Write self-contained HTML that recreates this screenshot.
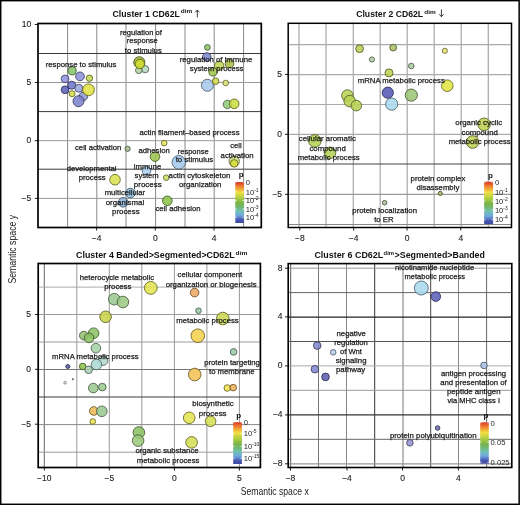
<!DOCTYPE html><html><head><meta charset="utf-8"><style>html,body{margin:0;padding:0;background:#fff;}svg{display:block;filter:blur(0.35px);}</style></head><body>
<svg width="520" height="505" viewBox="0 0 520 505" font-family='"Liberation Sans", sans-serif'>
<rect x="0" y="0" width="520" height="505" fill="#fff"/>
<line x1="67.6" y1="23.5" x2="67.6" y2="227.5" stroke="#888" stroke-width="1"/>
<line x1="96.8" y1="23.5" x2="96.8" y2="227.5" stroke="#888" stroke-width="1"/>
<line x1="126.0" y1="23.5" x2="126.0" y2="227.5" stroke="#888" stroke-width="1"/>
<line x1="155.6" y1="23.5" x2="155.6" y2="227.5" stroke="#888" stroke-width="1"/>
<line x1="185.0" y1="23.5" x2="185.0" y2="227.5" stroke="#888" stroke-width="1"/>
<line x1="214.2" y1="23.5" x2="214.2" y2="227.5" stroke="#888" stroke-width="1"/>
<line x1="243.6" y1="23.5" x2="243.6" y2="227.5" stroke="#888" stroke-width="1"/>
<line x1="38" y1="53.5" x2="261.3" y2="53.5" stroke="#3a3a3a" stroke-width="1"/>
<line x1="38" y1="82.5" x2="261.3" y2="82.5" stroke="#9a9a9a" stroke-width="1"/>
<line x1="38" y1="111.6" x2="261.3" y2="111.6" stroke="#3a3a3a" stroke-width="1"/>
<line x1="38" y1="140.7" x2="261.3" y2="140.7" stroke="#9a9a9a" stroke-width="1"/>
<line x1="38" y1="169.2" x2="261.3" y2="169.2" stroke="#3a3a3a" stroke-width="1"/>
<line x1="38" y1="198.4" x2="261.3" y2="198.4" stroke="#9a9a9a" stroke-width="1"/>
<circle cx="72.1" cy="70.8" r="4.10" fill="#86c46a" fill-opacity="0.88" stroke="#3c582f" stroke-opacity="0.85" stroke-width="1.0"/>
<circle cx="80" cy="76.4" r="4.40" fill="#8e92da" fill-opacity="0.88" stroke="#3f4162" stroke-opacity="0.85" stroke-width="1.0"/>
<circle cx="89.4" cy="78.2" r="3.20" fill="#c6d655" fill-opacity="0.88" stroke="#596026" stroke-opacity="0.85" stroke-width="1.0"/>
<circle cx="65.1" cy="78.9" r="3.90" fill="#9094de" fill-opacity="0.88" stroke="#404263" stroke-opacity="0.85" stroke-width="1.0"/>
<circle cx="71.7" cy="85.2" r="4.00" fill="#7177c8" fill-opacity="0.88" stroke="#32355a" stroke-opacity="0.85" stroke-width="1.0"/>
<circle cx="78.8" cy="88.2" r="4.00" fill="#9ca6de" fill-opacity="0.88" stroke="#464a63" stroke-opacity="0.85" stroke-width="1.0"/>
<circle cx="65.1" cy="89.8" r="3.90" fill="#5d63b8" fill-opacity="0.88" stroke="#292c52" stroke-opacity="0.85" stroke-width="1.0"/>
<circle cx="83.3" cy="96.4" r="4.30" fill="#8f97d4" fill-opacity="0.88" stroke="#40435f" stroke-opacity="0.85" stroke-width="1.0"/>
<circle cx="78.5" cy="101.2" r="5.50" fill="#7d84cc" fill-opacity="0.88" stroke="#383b5b" stroke-opacity="0.85" stroke-width="1.0"/>
<circle cx="88.5" cy="89.8" r="5.90" fill="#e0e143" fill-opacity="0.88" stroke="#64651e" stroke-opacity="0.85" stroke-width="1.0"/>
<circle cx="72.1" cy="93.7" r="3.00" fill="#d8da4e" fill-opacity="0.88" stroke="#616223" stroke-opacity="0.85" stroke-width="1.0"/>
<circle cx="139.3" cy="62.3" r="5.60" fill="#9db63a" fill-opacity="0.88" stroke="#46511a" stroke-opacity="0.85" stroke-width="1.0"/>
<circle cx="145.2" cy="69.2" r="3.60" fill="#b4d8bc" fill-opacity="0.88" stroke="#516154" stroke-opacity="0.85" stroke-width="1.0"/>
<circle cx="138.8" cy="70.3" r="3.30" fill="#b4d4a4" fill-opacity="0.88" stroke="#515f49" stroke-opacity="0.85" stroke-width="1.0"/>
<circle cx="139.8" cy="64.0" r="4.70" fill="#d2de32" fill-opacity="0.88" stroke="#5e6316" stroke-opacity="0.85" stroke-width="1.0"/>
<circle cx="207.4" cy="47.4" r="2.90" fill="#92c272" fill-opacity="0.88" stroke="#415733" stroke-opacity="0.85" stroke-width="1.0"/>
<circle cx="206.8" cy="57" r="4.30" fill="#8288d0" fill-opacity="0.88" stroke="#3a3d5d" stroke-opacity="0.85" stroke-width="1.0"/>
<circle cx="229.5" cy="63.7" r="4.30" fill="#a8c042" fill-opacity="0.88" stroke="#4b561d" stroke-opacity="0.85" stroke-width="1.0"/>
<circle cx="219.2" cy="65.7" r="4.70" fill="#c2d652" fill-opacity="0.88" stroke="#576024" stroke-opacity="0.85" stroke-width="1.0"/>
<circle cx="213" cy="71.9" r="4.10" fill="#a4ca4c" fill-opacity="0.88" stroke="#495a22" stroke-opacity="0.85" stroke-width="1.0"/>
<circle cx="207.4" cy="85.3" r="6.00" fill="#aacaee" fill-opacity="0.88" stroke="#4c5a6b" stroke-opacity="0.85" stroke-width="1.0"/>
<circle cx="215.6" cy="81.2" r="3.30" fill="#d2da52" fill-opacity="0.88" stroke="#5e6224" stroke-opacity="0.85" stroke-width="1.0"/>
<circle cx="225.7" cy="83" r="2.80" fill="#dae274" fill-opacity="0.88" stroke="#626534" stroke-opacity="0.85" stroke-width="1.0"/>
<circle cx="227.4" cy="104.4" r="4.20" fill="#94ca7c" fill-opacity="0.88" stroke="#425a37" stroke-opacity="0.85" stroke-width="1.0"/>
<circle cx="234.2" cy="103.8" r="4.80" fill="#cade42" fill-opacity="0.88" stroke="#5a631d" stroke-opacity="0.85" stroke-width="1.0"/>
<circle cx="127.6" cy="148.8" r="2.60" fill="#a4bc94" fill-opacity="0.88" stroke="#495442" stroke-opacity="0.85" stroke-width="1.0"/>
<circle cx="164.2" cy="143.1" r="2.80" fill="#e2e262" fill-opacity="0.88" stroke="#65652c" stroke-opacity="0.85" stroke-width="1.0"/>
<circle cx="155" cy="156.6" r="4.80" fill="#9cc44c" fill-opacity="0.88" stroke="#465822" stroke-opacity="0.85" stroke-width="1.0"/>
<circle cx="178.8" cy="162.3" r="6.80" fill="#a4c8ec" fill-opacity="0.88" stroke="#495a6a" stroke-opacity="0.85" stroke-width="1.0"/>
<circle cx="146.5" cy="170.8" r="4.30" fill="#acd2f2" fill-opacity="0.88" stroke="#4d5e6c" stroke-opacity="0.85" stroke-width="1.0"/>
<circle cx="115" cy="179.7" r="5.30" fill="#dae252" fill-opacity="0.88" stroke="#626524" stroke-opacity="0.85" stroke-width="1.0"/>
<circle cx="166.2" cy="177.7" r="2.80" fill="#cce264" fill-opacity="0.88" stroke="#5b652d" stroke-opacity="0.85" stroke-width="1.0"/>
<circle cx="130.4" cy="193.1" r="4.80" fill="#8cbcdc" fill-opacity="0.88" stroke="#3f5463" stroke-opacity="0.85" stroke-width="1.0"/>
<circle cx="123.2" cy="202.3" r="4.80" fill="#8cb4dc" fill-opacity="0.88" stroke="#3f5163" stroke-opacity="0.85" stroke-width="1.0"/>
<circle cx="167.3" cy="200.8" r="4.80" fill="#8cc44c" fill-opacity="0.88" stroke="#3f5822" stroke-opacity="0.85" stroke-width="1.0"/>
<circle cx="234.2" cy="161.3" r="5.20" fill="#d4e488" fill-opacity="0.88" stroke="#5f663d" stroke-opacity="0.85" stroke-width="1.0"/>
<circle cx="234.2" cy="163.4" r="3.80" fill="#d4dc3c" fill-opacity="0.88" stroke="#5f631b" stroke-opacity="0.85" stroke-width="1.0"/>
<rect x="38" y="23.5" width="223.3" height="204.0" fill="none" stroke="#000" stroke-width="1.7"/>
<line x1="96.6" y1="227.5" x2="96.6" y2="230.5" stroke="#000" stroke-width="0.9"/>
<text x="96.6" y="240.5" font-size="8.5" fill="#222" stroke="#222" stroke-width="0.12" text-anchor="middle">−4</text>
<line x1="155.3" y1="227.5" x2="155.3" y2="230.5" stroke="#000" stroke-width="0.9"/>
<text x="155.3" y="240.5" font-size="8.5" fill="#222" stroke="#222" stroke-width="0.12" text-anchor="middle">0</text>
<line x1="214.0" y1="227.5" x2="214.0" y2="230.5" stroke="#000" stroke-width="0.9"/>
<text x="214.0" y="240.5" font-size="8.5" fill="#222" stroke="#222" stroke-width="0.12" text-anchor="middle">4</text>
<line x1="34.8" y1="24.5" x2="38" y2="24.5" stroke="#000" stroke-width="0.9"/>
<text x="31.2" y="27.0" font-size="8.5" fill="#222" stroke="#222" stroke-width="0.12" text-anchor="end">10</text>
<line x1="34.8" y1="82.5" x2="38" y2="82.5" stroke="#000" stroke-width="0.9"/>
<text x="31.2" y="85.0" font-size="8.5" fill="#222" stroke="#222" stroke-width="0.12" text-anchor="end">5</text>
<line x1="34.8" y1="140.7" x2="38" y2="140.7" stroke="#000" stroke-width="0.9"/>
<text x="31.2" y="143.2" font-size="8.5" fill="#222" stroke="#222" stroke-width="0.12" text-anchor="end">0</text>
<line x1="34.8" y1="198.4" x2="38" y2="198.4" stroke="#000" stroke-width="0.9"/>
<text x="31.2" y="200.9" font-size="8.5" fill="#222" stroke="#222" stroke-width="0.12" text-anchor="end">−5</text>
<text x="45.7" y="66.5" font-size="7.8" font-weight="normal" fill="#1a1a1a" stroke="#1a1a1a" stroke-width="0.25" textLength="70.8" lengthAdjust="spacingAndGlyphs">response to stimulus</text>
<text x="120.1" y="34.6" font-size="7.8" font-weight="normal" fill="#1a1a1a" stroke="#1a1a1a" stroke-width="0.25" textLength="41.7" lengthAdjust="spacingAndGlyphs">regulation of</text>
<text x="126.8" y="43.3" font-size="7.8" font-weight="normal" fill="#1a1a1a" stroke="#1a1a1a" stroke-width="0.25" textLength="31.0" lengthAdjust="spacingAndGlyphs">response</text>
<text x="124.8" y="52.8" font-size="7.8" font-weight="normal" fill="#1a1a1a" stroke="#1a1a1a" stroke-width="0.25" textLength="37.0" lengthAdjust="spacingAndGlyphs">to stimulus</text>
<text x="179.7" y="62.2" font-size="7.8" font-weight="normal" fill="#1a1a1a" stroke="#1a1a1a" stroke-width="0.25" textLength="72.6" lengthAdjust="spacingAndGlyphs">regulation of immune</text>
<text x="189.8" y="71.0" font-size="7.8" font-weight="normal" fill="#1a1a1a" stroke="#1a1a1a" stroke-width="0.25" textLength="53.6" lengthAdjust="spacingAndGlyphs">system process</text>
<text x="139.4" y="135.0" font-size="7.8" font-weight="normal" fill="#1a1a1a" stroke="#1a1a1a" stroke-width="0.25" textLength="100.2" lengthAdjust="spacingAndGlyphs">actin filament–based process</text>
<text x="75.0" y="149.6" font-size="7.8" font-weight="normal" fill="#1a1a1a" stroke="#1a1a1a" stroke-width="0.25" textLength="46.3" lengthAdjust="spacingAndGlyphs">cell activation</text>
<text x="138.4" y="152.7" font-size="7.8" font-weight="normal" fill="#1a1a1a" stroke="#1a1a1a" stroke-width="0.25" textLength="31.4" lengthAdjust="spacingAndGlyphs">adhesion</text>
<text x="177.7" y="153.5" font-size="7.8" font-weight="normal" fill="#1a1a1a" stroke="#1a1a1a" stroke-width="0.25" textLength="31.0" lengthAdjust="spacingAndGlyphs">response</text>
<text x="175.7" y="162.4" font-size="7.8" font-weight="normal" fill="#1a1a1a" stroke="#1a1a1a" stroke-width="0.25" textLength="37.5" lengthAdjust="spacingAndGlyphs">to stimulus</text>
<text x="230.3" y="148.4" font-size="7.8" font-weight="normal" fill="#1a1a1a" stroke="#1a1a1a" stroke-width="0.25" textLength="11.4" lengthAdjust="spacingAndGlyphs">cell</text>
<text x="220.6" y="157.8" font-size="7.8" font-weight="normal" fill="#1a1a1a" stroke="#1a1a1a" stroke-width="0.25" textLength="33.0" lengthAdjust="spacingAndGlyphs">activation</text>
<text x="66.7" y="170.8" font-size="7.8" font-weight="normal" fill="#1a1a1a" stroke="#1a1a1a" stroke-width="0.25" textLength="49.8" lengthAdjust="spacingAndGlyphs">developmental</text>
<text x="78.7" y="179.8" font-size="7.8" font-weight="normal" fill="#1a1a1a" stroke="#1a1a1a" stroke-width="0.25" textLength="27.0" lengthAdjust="spacingAndGlyphs">process</text>
<text x="133.8" y="168.7" font-size="7.8" font-weight="normal" fill="#1a1a1a" stroke="#1a1a1a" stroke-width="0.25" textLength="27.4" lengthAdjust="spacingAndGlyphs">immune</text>
<text x="134.6" y="177.6" font-size="7.8" font-weight="normal" fill="#1a1a1a" stroke="#1a1a1a" stroke-width="0.25" textLength="24.1" lengthAdjust="spacingAndGlyphs">system</text>
<text x="133.8" y="186.5" font-size="7.8" font-weight="normal" fill="#1a1a1a" stroke="#1a1a1a" stroke-width="0.25" textLength="27.9" lengthAdjust="spacingAndGlyphs">process</text>
<text x="168.6" y="177.6" font-size="7.8" font-weight="normal" fill="#1a1a1a" stroke="#1a1a1a" stroke-width="0.25" textLength="61.7" lengthAdjust="spacingAndGlyphs">actin cytoskeleton</text>
<text x="179.0" y="187.0" font-size="7.8" font-weight="normal" fill="#1a1a1a" stroke="#1a1a1a" stroke-width="0.25" textLength="42.4" lengthAdjust="spacingAndGlyphs">organization</text>
<text x="104.7" y="195.3" font-size="7.8" font-weight="normal" fill="#1a1a1a" stroke="#1a1a1a" stroke-width="0.25" textLength="40.5" lengthAdjust="spacingAndGlyphs">multicellular</text>
<text x="105.7" y="204.7" font-size="7.8" font-weight="normal" fill="#1a1a1a" stroke="#1a1a1a" stroke-width="0.25" textLength="38.5" lengthAdjust="spacingAndGlyphs">organismal</text>
<text x="112.0" y="214.1" font-size="7.8" font-weight="normal" fill="#1a1a1a" stroke="#1a1a1a" stroke-width="0.25" textLength="27.6" lengthAdjust="spacingAndGlyphs">process</text>
<text x="155.4" y="210.6" font-size="7.8" font-weight="normal" fill="#1a1a1a" stroke="#1a1a1a" stroke-width="0.25" textLength="45.2" lengthAdjust="spacingAndGlyphs">cell adhesion</text>
<defs><linearGradient id="g235182" x1="0" y1="0" x2="0" y2="1"><stop offset="0" stop-color="#d83828"/><stop offset="0.12" stop-color="#f08830"/><stop offset="0.25" stop-color="#f2de40"/><stop offset="0.38" stop-color="#b4d040"/><stop offset="0.52" stop-color="#78b448"/><stop offset="0.62" stop-color="#70b878"/><stop offset="0.71" stop-color="#70c0b4"/><stop offset="0.81" stop-color="#6ea8e0"/><stop offset="0.92" stop-color="#4858b0"/><stop offset="1" stop-color="#3a48a0"/></linearGradient></defs>
<rect x="235.3" y="182" width="8.599999999999994" height="41" fill="url(#g235182)"/>
<text x="238.8" y="177.2" font-size="8" font-weight="bold" fill="#111">p</text>
<line x1="235.3" y1="182" x2="236.8" y2="182" stroke="#fff" stroke-width="0.7"/>
<line x1="242.4" y1="182" x2="243.9" y2="182" stroke="#fff" stroke-width="0.7"/>
<text x="245.7" y="184.7" font-size="7.6" fill="#1a1a1a">0</text>
<line x1="235.3" y1="191.8" x2="236.8" y2="191.8" stroke="#fff" stroke-width="0.7"/>
<line x1="242.4" y1="191.8" x2="243.9" y2="191.8" stroke="#fff" stroke-width="0.7"/>
<text x="245.7" y="194.5" font-size="7.6" fill="#1a1a1a">10<tspan font-size="5" dy="-3">-1</tspan></text>
<line x1="235.3" y1="200.5" x2="236.8" y2="200.5" stroke="#fff" stroke-width="0.7"/>
<line x1="242.4" y1="200.5" x2="243.9" y2="200.5" stroke="#fff" stroke-width="0.7"/>
<text x="245.7" y="203.2" font-size="7.6" fill="#1a1a1a">10<tspan font-size="5" dy="-3">-2</tspan></text>
<line x1="235.3" y1="209" x2="236.8" y2="209" stroke="#fff" stroke-width="0.7"/>
<line x1="242.4" y1="209" x2="243.9" y2="209" stroke="#fff" stroke-width="0.7"/>
<text x="245.7" y="211.7" font-size="7.6" fill="#1a1a1a">10<tspan font-size="5" dy="-3">-3</tspan></text>
<line x1="235.3" y1="217.1" x2="236.8" y2="217.1" stroke="#fff" stroke-width="0.7"/>
<line x1="242.4" y1="217.1" x2="243.9" y2="217.1" stroke="#fff" stroke-width="0.7"/>
<text x="245.7" y="219.8" font-size="7.6" fill="#1a1a1a">10<tspan font-size="5" dy="-3">-4</tspan></text>
<line x1="299.0" y1="23.3" x2="299.0" y2="227.5" stroke="#aaaaaa" stroke-width="1.25"/>
<line x1="326.0" y1="23.3" x2="326.0" y2="227.5" stroke="#aaaaaa" stroke-width="1.25"/>
<line x1="353.3" y1="23.3" x2="353.3" y2="227.5" stroke="#aaaaaa" stroke-width="1.25"/>
<line x1="380.2" y1="23.3" x2="380.2" y2="227.5" stroke="#aaaaaa" stroke-width="1.25"/>
<line x1="407.2" y1="23.3" x2="407.2" y2="227.5" stroke="#aaaaaa" stroke-width="1.25"/>
<line x1="434.2" y1="23.3" x2="434.2" y2="227.5" stroke="#aaaaaa" stroke-width="1.25"/>
<line x1="461.2" y1="23.3" x2="461.2" y2="227.5" stroke="#aaaaaa" stroke-width="1.25"/>
<line x1="488.3" y1="23.3" x2="488.3" y2="227.5" stroke="#aaaaaa" stroke-width="1.25"/>
<line x1="288.2" y1="44.6" x2="511.5" y2="44.6" stroke="#aaaaaa" stroke-width="1.2"/>
<line x1="288.2" y1="74.6" x2="511.5" y2="74.6" stroke="#aaaaaa" stroke-width="1.2"/>
<line x1="288.2" y1="104.5" x2="511.5" y2="104.5" stroke="#aaaaaa" stroke-width="1.2"/>
<line x1="288.2" y1="134.4" x2="511.5" y2="134.4" stroke="#aaaaaa" stroke-width="1.2"/>
<line x1="288.2" y1="164.0" x2="511.5" y2="164.0" stroke="#444" stroke-width="1.2"/>
<line x1="288.2" y1="194.3" x2="511.5" y2="194.3" stroke="#9a9a9a" stroke-width="1.2"/>
<line x1="288.2" y1="224.5" x2="511.5" y2="224.5" stroke="#888888" stroke-width="1.2"/>
<circle cx="359.6" cy="48.7" r="3.90" fill="#b8ce58" fill-opacity="0.88" stroke="#525c27" stroke-opacity="0.85" stroke-width="1.0"/>
<circle cx="393.2" cy="47.6" r="3.40" fill="#a8c264" fill-opacity="0.88" stroke="#4b572d" stroke-opacity="0.85" stroke-width="1.0"/>
<circle cx="371.9" cy="59.5" r="2.60" fill="#acc9a4" fill-opacity="0.88" stroke="#4d5a49" stroke-opacity="0.85" stroke-width="1.0"/>
<circle cx="389" cy="72.9" r="4.00" fill="#bed254" fill-opacity="0.88" stroke="#555e25" stroke-opacity="0.85" stroke-width="1.0"/>
<circle cx="387.8" cy="92.7" r="5.60" fill="#575ab6" fill-opacity="0.88" stroke="#272851" stroke-opacity="0.85" stroke-width="1.0"/>
<circle cx="391.7" cy="104.1" r="6.10" fill="#aad8ee" fill-opacity="0.88" stroke="#4c616b" stroke-opacity="0.85" stroke-width="1.0"/>
<circle cx="347.4" cy="95.6" r="5.80" fill="#bad254" fill-opacity="0.88" stroke="#535e25" stroke-opacity="0.85" stroke-width="1.0"/>
<circle cx="349.7" cy="101.1" r="5.80" fill="#bad254" fill-opacity="0.88" stroke="#535e25" stroke-opacity="0.85" stroke-width="1.0"/>
<circle cx="356.3" cy="105.6" r="5.30" fill="#bad254" fill-opacity="0.88" stroke="#535e25" stroke-opacity="0.85" stroke-width="1.0"/>
<circle cx="444.8" cy="50.8" r="2.60" fill="#e2e274" fill-opacity="0.88" stroke="#656534" stroke-opacity="0.85" stroke-width="1.0"/>
<circle cx="411.3" cy="66" r="2.80" fill="#aac9a4" fill-opacity="0.88" stroke="#4c5a49" stroke-opacity="0.85" stroke-width="1.0"/>
<circle cx="447.3" cy="85.7" r="5.80" fill="#e2e244" fill-opacity="0.88" stroke="#65651e" stroke-opacity="0.85" stroke-width="1.0"/>
<circle cx="411.3" cy="95.1" r="6.10" fill="#9cc474" fill-opacity="0.88" stroke="#465834" stroke-opacity="0.85" stroke-width="1.0"/>
<circle cx="314.9" cy="140.9" r="6.30" fill="#b4d254" fill-opacity="0.88" stroke="#515e25" stroke-opacity="0.85" stroke-width="1.0"/>
<circle cx="330" cy="152.8" r="5.80" fill="#b4d254" fill-opacity="0.88" stroke="#515e25" stroke-opacity="0.85" stroke-width="1.0"/>
<circle cx="484.1" cy="124.3" r="6.30" fill="#c2d254" fill-opacity="0.88" stroke="#575e25" stroke-opacity="0.85" stroke-width="1.0"/>
<circle cx="472.6" cy="142" r="6.30" fill="#c2d254" fill-opacity="0.88" stroke="#575e25" stroke-opacity="0.85" stroke-width="1.0"/>
<circle cx="440.3" cy="193.4" r="2.10" fill="#a4b464" fill-opacity="0.88" stroke="#49512d" stroke-opacity="0.85" stroke-width="1.0"/>
<circle cx="384.6" cy="202.7" r="2.30" fill="#a4bc94" fill-opacity="0.88" stroke="#495442" stroke-opacity="0.85" stroke-width="1.0"/>
<rect x="288.2" y="23.3" width="223.3" height="204.2" fill="none" stroke="#000" stroke-width="1.5"/>
<line x1="299.8" y1="227.5" x2="299.8" y2="230.5" stroke="#000" stroke-width="0.9"/>
<text x="299.8" y="240.6" font-size="8.5" fill="#222" stroke="#222" stroke-width="0.12" text-anchor="middle">−8</text>
<line x1="353.7" y1="227.5" x2="353.7" y2="230.5" stroke="#000" stroke-width="0.9"/>
<text x="353.7" y="240.6" font-size="8.5" fill="#222" stroke="#222" stroke-width="0.12" text-anchor="middle">−4</text>
<line x1="407" y1="227.5" x2="407" y2="230.5" stroke="#000" stroke-width="0.9"/>
<text x="407.0" y="240.6" font-size="8.5" fill="#222" stroke="#222" stroke-width="0.12" text-anchor="middle">0</text>
<line x1="460.8" y1="227.5" x2="460.8" y2="230.5" stroke="#000" stroke-width="0.9"/>
<text x="460.8" y="240.6" font-size="8.5" fill="#222" stroke="#222" stroke-width="0.12" text-anchor="middle">4</text>
<line x1="285.0" y1="74.4" x2="288.2" y2="74.4" stroke="#000" stroke-width="0.9"/>
<text x="282.1" y="76.9" font-size="8.5" fill="#222" stroke="#222" stroke-width="0.12" text-anchor="end">5</text>
<line x1="285.0" y1="134.3" x2="288.2" y2="134.3" stroke="#000" stroke-width="0.9"/>
<text x="282.1" y="136.8" font-size="8.5" fill="#222" stroke="#222" stroke-width="0.12" text-anchor="end">0</text>
<line x1="285.0" y1="194.3" x2="288.2" y2="194.3" stroke="#000" stroke-width="0.9"/>
<text x="282.1" y="196.8" font-size="8.5" fill="#222" stroke="#222" stroke-width="0.12" text-anchor="end">−5</text>
<text x="357.8" y="83.0" font-size="7.8" font-weight="normal" fill="#1a1a1a" stroke="#1a1a1a" stroke-width="0.25" textLength="87.0" lengthAdjust="spacingAndGlyphs">mRNA metabolic process</text>
<text x="298.8" y="141.4" font-size="7.8" font-weight="normal" fill="#1a1a1a" stroke="#1a1a1a" stroke-width="0.25" textLength="57.0" lengthAdjust="spacingAndGlyphs">cellular aromatic</text>
<text x="309.5" y="150.5" font-size="7.8" font-weight="normal" fill="#1a1a1a" stroke="#1a1a1a" stroke-width="0.25" textLength="36.2" lengthAdjust="spacingAndGlyphs">compound</text>
<text x="297.7" y="159.7" font-size="7.8" font-weight="normal" fill="#1a1a1a" stroke="#1a1a1a" stroke-width="0.25" textLength="62.0" lengthAdjust="spacingAndGlyphs">metabolic process</text>
<text x="455.3" y="125.3" font-size="7.8" font-weight="normal" fill="#1a1a1a" stroke="#1a1a1a" stroke-width="0.25" textLength="46.9" lengthAdjust="spacingAndGlyphs">organic cyclic</text>
<text x="461.5" y="134.8" font-size="7.8" font-weight="normal" fill="#1a1a1a" stroke="#1a1a1a" stroke-width="0.25" textLength="36.3" lengthAdjust="spacingAndGlyphs">compound</text>
<text x="448.7" y="144.1" font-size="7.8" font-weight="normal" fill="#1a1a1a" stroke="#1a1a1a" stroke-width="0.25" textLength="61.9" lengthAdjust="spacingAndGlyphs">metabolic process</text>
<text x="410.6" y="180.6" font-size="7.8" font-weight="normal" fill="#1a1a1a" stroke="#1a1a1a" stroke-width="0.25" textLength="54.7" lengthAdjust="spacingAndGlyphs">protein complex</text>
<text x="416.6" y="190.1" font-size="7.8" font-weight="normal" fill="#1a1a1a" stroke="#1a1a1a" stroke-width="0.25" textLength="42.7" lengthAdjust="spacingAndGlyphs">disassembly</text>
<text x="352.3" y="213.4" font-size="7.8" font-weight="normal" fill="#1a1a1a" stroke="#1a1a1a" stroke-width="0.25" textLength="64.7" lengthAdjust="spacingAndGlyphs">protein localization</text>
<text x="374.2" y="221.5" font-size="7.8" font-weight="normal" fill="#1a1a1a" stroke="#1a1a1a" stroke-width="0.25" textLength="19.3" lengthAdjust="spacingAndGlyphs">to ER</text>
<defs><linearGradient id="g484181" x1="0" y1="0" x2="0" y2="1"><stop offset="0" stop-color="#d83828"/><stop offset="0.12" stop-color="#f08830"/><stop offset="0.25" stop-color="#f2de40"/><stop offset="0.38" stop-color="#b4d040"/><stop offset="0.52" stop-color="#78b448"/><stop offset="0.62" stop-color="#70b878"/><stop offset="0.71" stop-color="#70c0b4"/><stop offset="0.81" stop-color="#6ea8e0"/><stop offset="0.92" stop-color="#4858b0"/><stop offset="1" stop-color="#3a48a0"/></linearGradient></defs>
<rect x="484.1" y="181.7" width="9.0" height="42.400000000000006" fill="url(#g484181)"/>
<text x="488" y="178.2" font-size="8" font-weight="bold" fill="#111">p</text>
<line x1="484.1" y1="182.4" x2="485.6" y2="182.4" stroke="#fff" stroke-width="0.7"/>
<line x1="491.6" y1="182.4" x2="493.1" y2="182.4" stroke="#fff" stroke-width="0.7"/>
<text x="494.9" y="185.1" font-size="7.6" fill="#1a1a1a">0</text>
<line x1="484.1" y1="192" x2="485.6" y2="192" stroke="#fff" stroke-width="0.7"/>
<line x1="491.6" y1="192" x2="493.1" y2="192" stroke="#fff" stroke-width="0.7"/>
<text x="494.9" y="194.7" font-size="7.6" fill="#1a1a1a">10<tspan font-size="5" dy="-3">-1</tspan></text>
<line x1="484.1" y1="201" x2="485.6" y2="201" stroke="#fff" stroke-width="0.7"/>
<line x1="491.6" y1="201" x2="493.1" y2="201" stroke="#fff" stroke-width="0.7"/>
<text x="494.9" y="203.7" font-size="7.6" fill="#1a1a1a">10<tspan font-size="5" dy="-3">-2</tspan></text>
<line x1="484.1" y1="210" x2="485.6" y2="210" stroke="#fff" stroke-width="0.7"/>
<line x1="491.6" y1="210" x2="493.1" y2="210" stroke="#fff" stroke-width="0.7"/>
<text x="494.9" y="212.7" font-size="7.6" fill="#1a1a1a">10<tspan font-size="5" dy="-3">-3</tspan></text>
<line x1="484.1" y1="219.6" x2="485.6" y2="219.6" stroke="#fff" stroke-width="0.7"/>
<line x1="491.6" y1="219.6" x2="493.1" y2="219.6" stroke="#fff" stroke-width="0.7"/>
<text x="494.9" y="222.3" font-size="7.6" fill="#1a1a1a">10<tspan font-size="5" dy="-3">-4</tspan></text>
<line x1="44.3" y1="263.5" x2="44.3" y2="467.5" stroke="#666" stroke-width="1"/>
<line x1="76.8" y1="263.5" x2="76.8" y2="467.5" stroke="#9a9a9a" stroke-width="1"/>
<line x1="109.3" y1="263.5" x2="109.3" y2="467.5" stroke="#9a9a9a" stroke-width="1"/>
<line x1="141.8" y1="263.5" x2="141.8" y2="467.5" stroke="#9a9a9a" stroke-width="1"/>
<line x1="174.4" y1="263.5" x2="174.4" y2="467.5" stroke="#9a9a9a" stroke-width="1"/>
<line x1="206.9" y1="263.5" x2="206.9" y2="467.5" stroke="#9a9a9a" stroke-width="1"/>
<line x1="239.4" y1="263.5" x2="239.4" y2="467.5" stroke="#9a9a9a" stroke-width="1"/>
<line x1="38.2" y1="287.1" x2="260.4" y2="287.1" stroke="#aaa" stroke-width="1"/>
<line x1="38.2" y1="314.5" x2="260.4" y2="314.5" stroke="#9a9a9a" stroke-width="1"/>
<line x1="38.2" y1="342.0" x2="260.4" y2="342.0" stroke="#9a9a9a" stroke-width="1"/>
<line x1="38.2" y1="369.5" x2="260.4" y2="369.5" stroke="#777" stroke-width="1"/>
<line x1="38.2" y1="397.0" x2="260.4" y2="397.0" stroke="#3a3a3a" stroke-width="1"/>
<line x1="38.2" y1="424.6" x2="260.4" y2="424.6" stroke="#888" stroke-width="1"/>
<line x1="38.2" y1="452.2" x2="260.4" y2="452.2" stroke="#9a9a9a" stroke-width="1"/>
<circle cx="150.8" cy="287.9" r="6.40" fill="#e2e252" fill-opacity="0.88" stroke="#656524" stroke-opacity="0.85" stroke-width="1.0"/>
<circle cx="114.3" cy="299.2" r="5.80" fill="#9cca92" fill-opacity="0.88" stroke="#465a41" stroke-opacity="0.85" stroke-width="1.0"/>
<circle cx="122.9" cy="302" r="5.80" fill="#9cca84" fill-opacity="0.88" stroke="#465a3b" stroke-opacity="0.85" stroke-width="1.0"/>
<circle cx="105.6" cy="316.8" r="5.80" fill="#cad24a" fill-opacity="0.88" stroke="#5a5e21" stroke-opacity="0.85" stroke-width="1.0"/>
<circle cx="83.8" cy="335.6" r="4.30" fill="#94c274" fill-opacity="0.88" stroke="#425734" stroke-opacity="0.85" stroke-width="1.0"/>
<circle cx="93.6" cy="333.2" r="5.30" fill="#8cc264" fill-opacity="0.88" stroke="#3f572d" stroke-opacity="0.85" stroke-width="1.0"/>
<circle cx="89.1" cy="337.9" r="4.80" fill="#8cc264" fill-opacity="0.88" stroke="#3f572d" stroke-opacity="0.85" stroke-width="1.0"/>
<circle cx="95.9" cy="348.2" r="4.80" fill="#a4d2a4" fill-opacity="0.88" stroke="#495e49" stroke-opacity="0.85" stroke-width="1.0"/>
<circle cx="103.1" cy="360.6" r="4.80" fill="#b4dacc" fill-opacity="0.88" stroke="#51625b" stroke-opacity="0.85" stroke-width="1.0"/>
<circle cx="96.5" cy="364.5" r="5.30" fill="#acdad4" fill-opacity="0.88" stroke="#4d625f" stroke-opacity="0.85" stroke-width="1.0"/>
<circle cx="82.7" cy="366.5" r="3.30" fill="#8cc24c" fill-opacity="0.88" stroke="#3f5722" stroke-opacity="0.85" stroke-width="1.0"/>
<circle cx="88.6" cy="369.8" r="3.80" fill="#acd2b4" fill-opacity="0.88" stroke="#4d5e51" stroke-opacity="0.85" stroke-width="1.0"/>
<circle cx="67.8" cy="366.5" r="2.00" fill="#5c5eaa" fill-opacity="0.88" stroke="#292a4c" stroke-opacity="0.85" stroke-width="1.0"/>
<circle cx="65.1" cy="382.8" r="1.30" fill="#ffffff" fill-opacity="0.88" stroke="#727272" stroke-opacity="0.85" stroke-width="1.0"/>
<circle cx="72.9" cy="379.2" r="0.60" fill="#999999" fill-opacity="0.88" stroke="#444444" stroke-opacity="0.85" stroke-width="1.0"/>
<circle cx="93.3" cy="388.1" r="4.80" fill="#9cca92" fill-opacity="0.88" stroke="#465a41" stroke-opacity="0.85" stroke-width="1.0"/>
<circle cx="102.3" cy="387.1" r="3.80" fill="#9cca92" fill-opacity="0.88" stroke="#465a41" stroke-opacity="0.85" stroke-width="1.0"/>
<circle cx="93.8" cy="411" r="4.30" fill="#eaba54" fill-opacity="0.88" stroke="#695325" stroke-opacity="0.85" stroke-width="1.0"/>
<circle cx="101.8" cy="411.3" r="5.30" fill="#9cca92" fill-opacity="0.88" stroke="#465a41" stroke-opacity="0.85" stroke-width="1.0"/>
<circle cx="92.8" cy="421.5" r="2.80" fill="#eae254" fill-opacity="0.88" stroke="#696525" stroke-opacity="0.85" stroke-width="1.0"/>
<circle cx="138.9" cy="432.5" r="5.80" fill="#8cc264" fill-opacity="0.88" stroke="#3f572d" stroke-opacity="0.85" stroke-width="1.0"/>
<circle cx="138.1" cy="440.6" r="5.80" fill="#9cca7c" fill-opacity="0.88" stroke="#465a37" stroke-opacity="0.85" stroke-width="1.0"/>
<circle cx="189.2" cy="417.8" r="5.80" fill="#e2e252" fill-opacity="0.88" stroke="#656524" stroke-opacity="0.85" stroke-width="1.0"/>
<circle cx="191.6" cy="442.4" r="5.80" fill="#d4de54" fill-opacity="0.88" stroke="#5f6325" stroke-opacity="0.85" stroke-width="1.0"/>
<circle cx="210.6" cy="421.3" r="5.30" fill="#d4de54" fill-opacity="0.88" stroke="#5f6325" stroke-opacity="0.85" stroke-width="1.0"/>
<circle cx="194.6" cy="292.6" r="4.30" fill="#eaaa64" fill-opacity="0.88" stroke="#694c2d" stroke-opacity="0.85" stroke-width="1.0"/>
<circle cx="198.5" cy="310.7" r="2.80" fill="#9ccaa4" fill-opacity="0.88" stroke="#465a49" stroke-opacity="0.85" stroke-width="1.0"/>
<circle cx="222.8" cy="318.5" r="6.30" fill="#ccda54" fill-opacity="0.88" stroke="#5b6225" stroke-opacity="0.85" stroke-width="1.0"/>
<circle cx="197.8" cy="335.7" r="6.80" fill="#f2d24c" fill-opacity="0.88" stroke="#6c5e22" stroke-opacity="0.85" stroke-width="1.0"/>
<circle cx="233.6" cy="351.9" r="3.30" fill="#9ccaac" fill-opacity="0.88" stroke="#465a4d" stroke-opacity="0.85" stroke-width="1.0"/>
<circle cx="194.7" cy="374.5" r="6.30" fill="#f2c254" fill-opacity="0.88" stroke="#6c5725" stroke-opacity="0.85" stroke-width="1.0"/>
<circle cx="227.3" cy="388" r="3.30" fill="#f2e254" fill-opacity="0.88" stroke="#6c6525" stroke-opacity="0.85" stroke-width="1.0"/>
<circle cx="233.2" cy="387.6" r="3.30" fill="#eab254" fill-opacity="0.88" stroke="#695025" stroke-opacity="0.85" stroke-width="1.0"/>
<rect x="38.2" y="263.5" width="222.2" height="204.0" fill="none" stroke="#000" stroke-width="1.7"/>
<line x1="44.3" y1="467.5" x2="44.3" y2="470.5" stroke="#000" stroke-width="0.9"/>
<text x="44.3" y="480.6" font-size="8.5" fill="#222" stroke="#222" stroke-width="0.12" text-anchor="middle">−10</text>
<line x1="109.3" y1="467.5" x2="109.3" y2="470.5" stroke="#000" stroke-width="0.9"/>
<text x="109.3" y="480.6" font-size="8.5" fill="#222" stroke="#222" stroke-width="0.12" text-anchor="middle">−5</text>
<line x1="174.4" y1="467.5" x2="174.4" y2="470.5" stroke="#000" stroke-width="0.9"/>
<text x="174.4" y="480.6" font-size="8.5" fill="#222" stroke="#222" stroke-width="0.12" text-anchor="middle">0</text>
<line x1="239.4" y1="467.5" x2="239.4" y2="470.5" stroke="#000" stroke-width="0.9"/>
<text x="239.4" y="480.6" font-size="8.5" fill="#222" stroke="#222" stroke-width="0.12" text-anchor="middle">5</text>
<line x1="35.0" y1="314.5" x2="38.2" y2="314.5" stroke="#000" stroke-width="0.9"/>
<text x="31.1" y="317.0" font-size="8.5" fill="#222" stroke="#222" stroke-width="0.12" text-anchor="end">5</text>
<line x1="35.0" y1="369.3" x2="38.2" y2="369.3" stroke="#000" stroke-width="0.9"/>
<text x="31.1" y="371.8" font-size="8.5" fill="#222" stroke="#222" stroke-width="0.12" text-anchor="end">0</text>
<line x1="35.0" y1="424.2" x2="38.2" y2="424.2" stroke="#000" stroke-width="0.9"/>
<text x="31.1" y="426.7" font-size="8.5" fill="#222" stroke="#222" stroke-width="0.12" text-anchor="end">−5</text>
<text x="79.8" y="279.8" font-size="7.8" font-weight="normal" fill="#1a1a1a" stroke="#1a1a1a" stroke-width="0.25" textLength="74.3" lengthAdjust="spacingAndGlyphs">heterocycle metabolic</text>
<text x="104.2" y="289.1" font-size="7.8" font-weight="normal" fill="#1a1a1a" stroke="#1a1a1a" stroke-width="0.25" textLength="27.2" lengthAdjust="spacingAndGlyphs">process</text>
<text x="52.1" y="359.2" font-size="7.8" font-weight="normal" fill="#1a1a1a" stroke="#1a1a1a" stroke-width="0.25" textLength="86.5" lengthAdjust="spacingAndGlyphs">mRNA metabolic process</text>
<text x="177.6" y="277.0" font-size="7.8" font-weight="normal" fill="#1a1a1a" stroke="#1a1a1a" stroke-width="0.25" textLength="64.6" lengthAdjust="spacingAndGlyphs">cellular component</text>
<text x="165.7" y="286.7" font-size="7.8" font-weight="normal" fill="#1a1a1a" stroke="#1a1a1a" stroke-width="0.25" textLength="90.9" lengthAdjust="spacingAndGlyphs">organization or biogenesis</text>
<text x="176.3" y="323.1" font-size="7.8" font-weight="normal" fill="#1a1a1a" stroke="#1a1a1a" stroke-width="0.25" textLength="62.4" lengthAdjust="spacingAndGlyphs">metabolic process</text>
<text x="204.2" y="364.8" font-size="7.8" font-weight="normal" fill="#1a1a1a" stroke="#1a1a1a" stroke-width="0.25" textLength="55.7" lengthAdjust="spacingAndGlyphs">protein targeting</text>
<text x="209.0" y="374.3" font-size="7.8" font-weight="normal" fill="#1a1a1a" stroke="#1a1a1a" stroke-width="0.25" textLength="45.6" lengthAdjust="spacingAndGlyphs">to membrane</text>
<text x="192.3" y="406.4" font-size="7.8" font-weight="normal" fill="#1a1a1a" stroke="#1a1a1a" stroke-width="0.25" textLength="41.4" lengthAdjust="spacingAndGlyphs">biosynthetic</text>
<text x="198.8" y="415.9" font-size="7.8" font-weight="normal" fill="#1a1a1a" stroke="#1a1a1a" stroke-width="0.25" textLength="27.8" lengthAdjust="spacingAndGlyphs">process</text>
<text x="135.4" y="453.0" font-size="7.8" font-weight="normal" fill="#1a1a1a" stroke="#1a1a1a" stroke-width="0.25" textLength="63.3" lengthAdjust="spacingAndGlyphs">organic substance</text>
<text x="136.7" y="462.7" font-size="7.8" font-weight="normal" fill="#1a1a1a" stroke="#1a1a1a" stroke-width="0.25" textLength="62.8" lengthAdjust="spacingAndGlyphs">metabolic process</text>
<defs><linearGradient id="g233422" x1="0" y1="0" x2="0" y2="1"><stop offset="0" stop-color="#d83828"/><stop offset="0.12" stop-color="#f08830"/><stop offset="0.25" stop-color="#f2de40"/><stop offset="0.38" stop-color="#b4d040"/><stop offset="0.52" stop-color="#78b448"/><stop offset="0.62" stop-color="#70b878"/><stop offset="0.71" stop-color="#70c0b4"/><stop offset="0.81" stop-color="#6ea8e0"/><stop offset="0.92" stop-color="#4858b0"/><stop offset="1" stop-color="#3a48a0"/></linearGradient></defs>
<rect x="233.2" y="422.2" width="8.700000000000017" height="41.80000000000001" fill="url(#g233422)"/>
<text x="236.3" y="417.6" font-size="8" font-weight="bold" fill="#111">p</text>
<line x1="233.2" y1="422" x2="234.7" y2="422" stroke="#fff" stroke-width="0.7"/>
<line x1="240.4" y1="422" x2="241.9" y2="422" stroke="#fff" stroke-width="0.7"/>
<text x="243.7" y="424.7" font-size="7.6" fill="#1a1a1a">0</text>
<line x1="233.2" y1="433.7" x2="234.7" y2="433.7" stroke="#fff" stroke-width="0.7"/>
<line x1="240.4" y1="433.7" x2="241.9" y2="433.7" stroke="#fff" stroke-width="0.7"/>
<text x="243.7" y="436.4" font-size="7.6" fill="#1a1a1a">10<tspan font-size="5" dy="-3">-5</tspan></text>
<line x1="233.2" y1="446.3" x2="234.7" y2="446.3" stroke="#fff" stroke-width="0.7"/>
<line x1="240.4" y1="446.3" x2="241.9" y2="446.3" stroke="#fff" stroke-width="0.7"/>
<text x="243.7" y="449.0" font-size="7.6" fill="#1a1a1a">10<tspan font-size="5" dy="-3">-10</tspan></text>
<line x1="233.2" y1="458.2" x2="234.7" y2="458.2" stroke="#fff" stroke-width="0.7"/>
<line x1="240.4" y1="458.2" x2="241.9" y2="458.2" stroke="#fff" stroke-width="0.7"/>
<text x="243.7" y="460.9" font-size="7.6" fill="#1a1a1a">10<tspan font-size="5" dy="-3">-15</tspan></text>
<line x1="290.7" y1="263.6" x2="290.7" y2="467.5" stroke="#555" stroke-width="1"/>
<line x1="318.5" y1="263.6" x2="318.5" y2="467.5" stroke="#777" stroke-width="1"/>
<line x1="346.5" y1="263.6" x2="346.5" y2="467.5" stroke="#888" stroke-width="1"/>
<line x1="374.7" y1="263.6" x2="374.7" y2="467.5" stroke="#333" stroke-width="1"/>
<line x1="403.0" y1="263.6" x2="403.0" y2="467.5" stroke="#777" stroke-width="1"/>
<line x1="430.7" y1="263.6" x2="430.7" y2="467.5" stroke="#444" stroke-width="1"/>
<line x1="458.5" y1="263.6" x2="458.5" y2="467.5" stroke="#888" stroke-width="1"/>
<line x1="486.6" y1="263.6" x2="486.6" y2="467.5" stroke="#666" stroke-width="1"/>
<line x1="288.2" y1="268.2" x2="511.8" y2="268.2" stroke="#999" stroke-width="1"/>
<line x1="288.2" y1="292.6" x2="511.8" y2="292.6" stroke="#666" stroke-width="1"/>
<line x1="288.2" y1="317.1" x2="511.8" y2="317.1" stroke="#222" stroke-width="1.3"/>
<line x1="288.2" y1="341.5" x2="511.8" y2="341.5" stroke="#555" stroke-width="1"/>
<line x1="288.2" y1="365.9" x2="511.8" y2="365.9" stroke="#aaa" stroke-width="1"/>
<line x1="288.2" y1="390.3" x2="511.8" y2="390.3" stroke="#999" stroke-width="1"/>
<line x1="288.2" y1="414.9" x2="511.8" y2="414.9" stroke="#333" stroke-width="1.1"/>
<line x1="288.2" y1="439.3" x2="511.8" y2="439.3" stroke="#666" stroke-width="1"/>
<line x1="288.2" y1="463.8" x2="511.8" y2="463.8" stroke="#999" stroke-width="1.3"/>
<circle cx="421.3" cy="288" r="7.00" fill="#aad8ee" fill-opacity="0.88" stroke="#4c616b" stroke-opacity="0.85" stroke-width="1.0"/>
<circle cx="435.8" cy="296.6" r="4.80" fill="#5c5eba" fill-opacity="0.88" stroke="#292a53" stroke-opacity="0.85" stroke-width="1.0"/>
<circle cx="317.2" cy="345.6" r="3.80" fill="#8288ce" fill-opacity="0.88" stroke="#3a3d5c" stroke-opacity="0.85" stroke-width="1.0"/>
<circle cx="333.2" cy="352.3" r="2.80" fill="#bacee8" fill-opacity="0.88" stroke="#535c68" stroke-opacity="0.85" stroke-width="1.0"/>
<circle cx="314.9" cy="369.2" r="3.80" fill="#8288ce" fill-opacity="0.88" stroke="#3a3d5c" stroke-opacity="0.85" stroke-width="1.0"/>
<circle cx="325.5" cy="376.9" r="3.80" fill="#5c5eb2" fill-opacity="0.88" stroke="#292a50" stroke-opacity="0.85" stroke-width="1.0"/>
<circle cx="484" cy="365.4" r="3.30" fill="#aac2e2" fill-opacity="0.88" stroke="#4c5765" stroke-opacity="0.85" stroke-width="1.0"/>
<circle cx="437.6" cy="428" r="2.30" fill="#7272b2" fill-opacity="0.88" stroke="#333350" stroke-opacity="0.85" stroke-width="1.0"/>
<circle cx="409.9" cy="442.8" r="3.30" fill="#9494d2" fill-opacity="0.88" stroke="#42425e" stroke-opacity="0.85" stroke-width="1.0"/>
<rect x="288.2" y="263.6" width="223.60000000000002" height="203.89999999999998" fill="none" stroke="#000" stroke-width="1.6"/>
<line x1="290.5" y1="467.5" x2="290.5" y2="470.5" stroke="#000" stroke-width="0.9"/>
<text x="290.5" y="480.6" font-size="8.5" fill="#222" stroke="#222" stroke-width="0.12" text-anchor="middle">−8</text>
<line x1="347" y1="467.5" x2="347" y2="470.5" stroke="#000" stroke-width="0.9"/>
<text x="347.0" y="480.6" font-size="8.5" fill="#222" stroke="#222" stroke-width="0.12" text-anchor="middle">−4</text>
<line x1="402.5" y1="467.5" x2="402.5" y2="470.5" stroke="#000" stroke-width="0.9"/>
<text x="402.5" y="480.6" font-size="8.5" fill="#222" stroke="#222" stroke-width="0.12" text-anchor="middle">0</text>
<line x1="458.3" y1="467.5" x2="458.3" y2="470.5" stroke="#000" stroke-width="0.9"/>
<text x="458.3" y="480.6" font-size="8.5" fill="#222" stroke="#222" stroke-width="0.12" text-anchor="middle">4</text>
<line x1="285.0" y1="268.2" x2="288.2" y2="268.2" stroke="#000" stroke-width="0.9"/>
<text x="282.6" y="270.7" font-size="8.5" fill="#222" stroke="#222" stroke-width="0.12" text-anchor="end">8</text>
<line x1="285.0" y1="316.9" x2="288.2" y2="316.9" stroke="#000" stroke-width="0.9"/>
<text x="282.6" y="319.4" font-size="8.5" fill="#222" stroke="#222" stroke-width="0.12" text-anchor="end">4</text>
<line x1="285.0" y1="365.9" x2="288.2" y2="365.9" stroke="#000" stroke-width="0.9"/>
<text x="282.6" y="368.4" font-size="8.5" fill="#222" stroke="#222" stroke-width="0.12" text-anchor="end">0</text>
<line x1="285.0" y1="414.9" x2="288.2" y2="414.9" stroke="#000" stroke-width="0.9"/>
<text x="282.6" y="417.4" font-size="8.5" fill="#222" stroke="#222" stroke-width="0.12" text-anchor="end">−4</text>
<line x1="285.0" y1="463.8" x2="288.2" y2="463.8" stroke="#000" stroke-width="0.9"/>
<text x="282.6" y="466.3" font-size="8.5" fill="#222" stroke="#222" stroke-width="0.12" text-anchor="end">−8</text>
<text x="395.0" y="269.8" font-size="7.8" font-weight="normal" fill="#1a1a1a" stroke="#1a1a1a" stroke-width="0.25" textLength="79.2" lengthAdjust="spacingAndGlyphs">nicotinamide nucleotide</text>
<text x="404.6" y="278.8" font-size="7.8" font-weight="normal" fill="#1a1a1a" stroke="#1a1a1a" stroke-width="0.25" textLength="60.4" lengthAdjust="spacingAndGlyphs">metabolic process</text>
<text x="336.5" y="336.1" font-size="7.8" font-weight="normal" fill="#1a1a1a" stroke="#1a1a1a" stroke-width="0.25" textLength="29.4" lengthAdjust="spacingAndGlyphs">negative</text>
<text x="334.2" y="345.1" font-size="7.8" font-weight="normal" fill="#1a1a1a" stroke="#1a1a1a" stroke-width="0.25" textLength="33.6" lengthAdjust="spacingAndGlyphs">regulation</text>
<text x="339.9" y="354.3" font-size="7.8" font-weight="normal" fill="#1a1a1a" stroke="#1a1a1a" stroke-width="0.25" textLength="22.1" lengthAdjust="spacingAndGlyphs">of Wnt</text>
<text x="335.7" y="363.0" font-size="7.8" font-weight="normal" fill="#1a1a1a" stroke="#1a1a1a" stroke-width="0.25" textLength="30.8" lengthAdjust="spacingAndGlyphs">signaling</text>
<text x="336.0" y="372.4" font-size="7.8" font-weight="normal" fill="#1a1a1a" stroke="#1a1a1a" stroke-width="0.25" textLength="29.3" lengthAdjust="spacingAndGlyphs">pathway</text>
<text x="440.9" y="375.9" font-size="7.8" font-weight="normal" fill="#1a1a1a" stroke="#1a1a1a" stroke-width="0.25" textLength="65.2" lengthAdjust="spacingAndGlyphs">antigen processing</text>
<text x="440.2" y="384.7" font-size="7.8" font-weight="normal" fill="#1a1a1a" stroke="#1a1a1a" stroke-width="0.25" textLength="66.6" lengthAdjust="spacingAndGlyphs">and presentation of</text>
<text x="446.9" y="393.6" font-size="7.8" font-weight="normal" fill="#1a1a1a" stroke="#1a1a1a" stroke-width="0.25" textLength="53.7" lengthAdjust="spacingAndGlyphs">peptide antigen</text>
<text x="447.5" y="402.9" font-size="7.8" font-weight="normal" fill="#1a1a1a" stroke="#1a1a1a" stroke-width="0.25" textLength="52.5" lengthAdjust="spacingAndGlyphs">via MHC class I</text>
<text x="389.9" y="438.1" font-size="7.8" font-weight="normal" fill="#1a1a1a" stroke="#1a1a1a" stroke-width="0.25" textLength="86.7" lengthAdjust="spacingAndGlyphs">protein polyubiquitination</text>
<defs><linearGradient id="g480422" x1="0" y1="0" x2="0" y2="1"><stop offset="0" stop-color="#d83828"/><stop offset="0.12" stop-color="#f08830"/><stop offset="0.25" stop-color="#f2de40"/><stop offset="0.38" stop-color="#b4d040"/><stop offset="0.52" stop-color="#78b448"/><stop offset="0.62" stop-color="#70b878"/><stop offset="0.71" stop-color="#70c0b4"/><stop offset="0.81" stop-color="#6ea8e0"/><stop offset="0.92" stop-color="#4858b0"/><stop offset="1" stop-color="#3a48a0"/></linearGradient></defs>
<rect x="480.2" y="422.3" width="8.600000000000023" height="41.30000000000001" fill="url(#g480422)"/>
<text x="483.6" y="418.2" font-size="8" font-weight="bold" fill="#111">p</text>
<line x1="480.2" y1="422.8" x2="481.7" y2="422.8" stroke="#fff" stroke-width="0.7"/>
<line x1="487.3" y1="422.8" x2="488.8" y2="422.8" stroke="#fff" stroke-width="0.7"/>
<text x="490.6" y="425.5" font-size="7.6" fill="#1a1a1a">0</text>
<line x1="480.2" y1="442" x2="481.7" y2="442" stroke="#fff" stroke-width="0.7"/>
<line x1="487.3" y1="442" x2="488.8" y2="442" stroke="#fff" stroke-width="0.7"/>
<text x="490.6" y="444.7" font-size="7.6" fill="#1a1a1a">0.05</text>
<line x1="480.2" y1="462.3" x2="481.7" y2="462.3" stroke="#fff" stroke-width="0.7"/>
<line x1="487.3" y1="462.3" x2="488.8" y2="462.3" stroke="#fff" stroke-width="0.7"/>
<text x="490.6" y="465.0" font-size="7.6" fill="#1a1a1a">0.025</text>
<text x="112.5" y="16.9" font-size="8.9" font-weight="bold" fill="#111" textLength="67.3" lengthAdjust="spacingAndGlyphs">Cluster 1 CD62L</text>
<text x="180.8" y="13.4" font-size="6.0" font-weight="bold" fill="#111" textLength="11.5" lengthAdjust="spacingAndGlyphs">dim</text>
<path d="M197.3 17.4 V10 M195.3 12.3 L197.3 10 L199.3 12.3" stroke="#222" stroke-width="0.9" fill="none"/>
<text x="356.2" y="17.0" font-size="8.9" font-weight="bold" fill="#111" textLength="66.9" lengthAdjust="spacingAndGlyphs">Cluster 2 CD62L</text>
<text x="424.3" y="13.5" font-size="6.0" font-weight="bold" fill="#111" textLength="11.5" lengthAdjust="spacingAndGlyphs">dim</text>
<path d="M441.4 9.4 V16.7 M439.2 14.3 L441.4 16.7 L443.6 14.3" stroke="#222" stroke-width="0.9" fill="none"/>
<text x="76.1" y="258.3" font-size="8.9" font-weight="bold" fill="#111" textLength="158.5" lengthAdjust="spacingAndGlyphs">Cluster 4 Banded&gt;Segmented&gt;CD62L</text>
<text x="235.6" y="254.8" font-size="6.0" font-weight="bold" fill="#111" textLength="11.8" lengthAdjust="spacingAndGlyphs">dim</text>
<text x="314.4" y="258.0" font-size="8.9" font-weight="bold" fill="#111" textLength="68.8" lengthAdjust="spacingAndGlyphs">Cluster 6 CD62L</text>
<text x="383.6" y="254.5" font-size="6.0" font-weight="bold" fill="#111" textLength="10.4" lengthAdjust="spacingAndGlyphs">dim</text>
<text x="394.6" y="258.0" font-size="8.9" font-weight="bold" fill="#111" textLength="90.3" lengthAdjust="spacingAndGlyphs">&gt;Segmented&gt;Banded</text>
<text x="240.7" y="494.7" font-size="10.4" fill="#222" textLength="68" lengthAdjust="spacingAndGlyphs">Semantic space x</text>
<text transform="translate(16.3,283.6) rotate(-90)" x="0" y="0" font-size="10.4" fill="#222" textLength="68.7" lengthAdjust="spacingAndGlyphs">Semantic space y</text>
<rect x="0.7" y="0.65" width="518.45" height="503.65" fill="none" stroke="#000" stroke-width="1.5"/>
</svg></body></html>
